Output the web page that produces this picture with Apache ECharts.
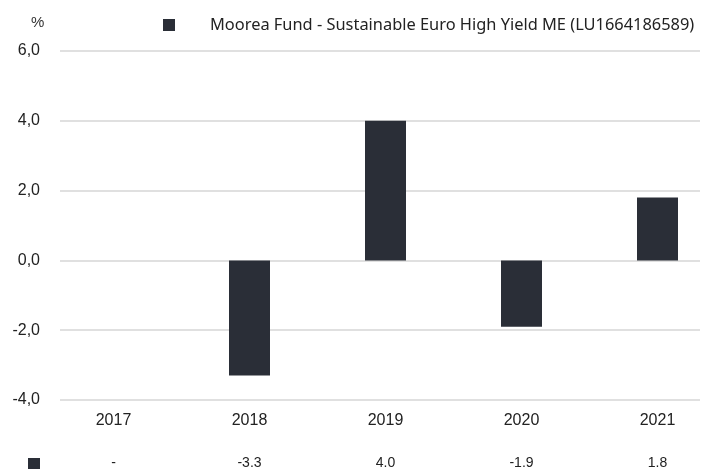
<!DOCTYPE html>
<html lang="en">
<head>
    <meta charset="UTF-8">
    <title>Moorea Fund</title>
    <script src="https://cdn.jsdelivr.net/npm/echarts@6/dist/echarts.min.js"></script>
</head>
<body style="margin:0;overflow:hidden;">
<div style="width:701px;height:475px;overflow:hidden;">
    <!-- drawn a bit wider than the window: the last category band runs off the right edge -->
    <div id="chart" style="width:726px;height:475px;"></div>
</div>
<script>
    // annual performance, %
    var years = ['2017', '2018', '2019', '2020', '2021'];
    var perf = [null, -3.3, 4.0, -1.9, 1.8];
    var perfLabels = ['-', '-3.3', '4.0', '-1.9', '1.8'];
    var seriesName = 'Moorea Fund - Sustainable Euro High Yield ME (LU1664186589)';

    var barColor = '#2a2e37';
    var chart = echarts.init(document.getElementById('chart'));
    chart.setOption({
        animation: false,
        legend: {
            top: 12,
            left: 158,
            icon: 'rect',
            itemWidth: 12,
            itemHeight: 12,
            textStyle: {fontFamily: 'Noto Sans', fontSize: 16.4, color: '#222', padding: [0, 0, 0, 30]},
            data: [seriesName]
        },
        graphic: [
            {type: 'text', left: 31, top: 15, style: {text: '%', fontFamily: 'Liberation Sans', fontSize: 15, fill: '#333'}},
            {type: 'rect', shape: {x: 28, y: 458, width: 12, height: 11}, style: {fill: barColor}}
        ],
        grid: [
            // grid with the gridlines and y labels
            {left: 60, right: 26, top: 51, height: 349},
            // grid holding the bars
            {left: 45.5, right: 0.5, top: 51, height: 349}
        ],
        xAxis: [
            {gridIndex: 0, type: 'category', data: years, show: false},
            {
                gridIndex: 1, type: 'category', data: years, position: 'bottom',
                axisLine: {show: false}, axisTick: {show: false},
                axisLabel: {margin: 13, fontFamily: 'Liberation Sans', fontSize: 16, color: '#222'}
            },
            {
                gridIndex: 1, type: 'category', data: perfLabels, position: 'bottom',
                axisLine: {show: false}, axisTick: {show: false},
                axisLabel: {margin: 56, fontFamily: 'Liberation Sans', fontSize: 14, color: '#222'}
            }
        ],
        yAxis: [
            {
                gridIndex: 0, type: 'value', min: -4, max: 6, interval: 2,
                axisLine: {show: false}, axisTick: {show: false},
                axisLabel: {
                    margin: 20, fontFamily: 'Liberation Sans', fontSize: 16, color: '#222',
                    formatter: function (v) { return v.toFixed(1).replace('.', ','); }
                },
                splitLine: {lineStyle: {color: '#e0e0e0', width: 2}}
            },
            {gridIndex: 1, type: 'value', min: -4, max: 6, interval: 2, show: false, splitLine: {show: false}}
        ],
        series: [
            {
                name: seriesName,
                type: 'bar',
                xAxisIndex: 1,
                yAxisIndex: 1,
                barWidth: 41,
                itemStyle: {color: barColor},
                data: perf
            }
        ]
    });
</script>
</body>
</html>
